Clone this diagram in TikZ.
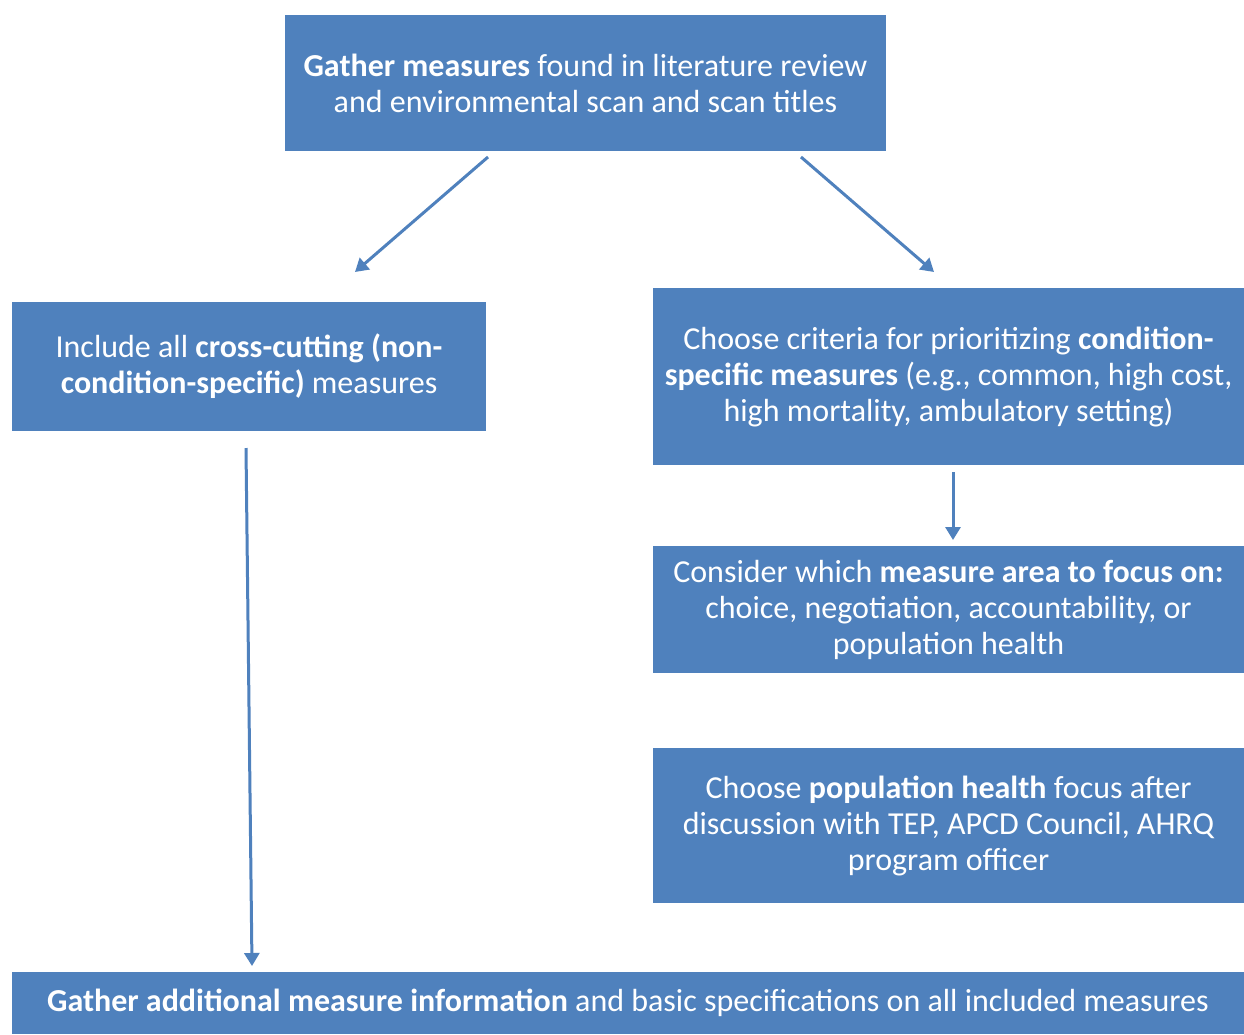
\documentclass[tikz,border=0pt]{standalone}
\usepackage{fontspec}
\setmainfont{Carlito}
\usetikzlibrary{arrows.meta}
\definecolor{boxblue}{HTML}{4F81BD}
\tikzset{
  box/.style={fill=boxblue, draw=none, text=white, align=center, inner sep=0pt,
    font=\fontsize{32}{36}\selectfont},
  conn/.style={draw=boxblue, line width=3pt, -{Triangle[width=15pt,length=13pt]}}
}
\begin{document}
\begin{tikzpicture}[x=1pt,y=-1pt]
\useasboundingbox (0,0) rectangle (1244,1034);
\fill[white] (0,0) rectangle (1244,1034);
\node[box, minimum width=601pt, minimum height=136pt] (top) at (585.5,83)
  {\textbf{Gather measures} found in literature review\\ and environmental scan and scan titles};
\node[box, minimum width=474pt, minimum height=129pt] (left) at (249,366.5)
  {Include all \textbf{cross-cutting (non-}\\\textbf{condition-specific)} measures};
\node[box, minimum width=591pt, minimum height=177pt] (r1) at (948.5,376.5)
  {Choose criteria for prioritizing \textbf{condition-}\\\textbf{specific measures} (e.g., common, high cost,\\ high mortality, ambulatory setting)};
\node[box, minimum width=591pt, minimum height=127pt] (r2) at (948.5,609.5)
  {Consider which \textbf{measure area to focus on:}\\ choice, negotiation, accountability, or\\ population health};
\node[box, minimum width=591pt, minimum height=155pt] (r3) at (948.5,825.5)
  {Choose \textbf{population health} focus after\\ discussion with TEP, APCD Council, AHRQ\\ program officer};
\node[box, minimum width=1232pt, minimum height=62pt] (bot) at (628,1003)
  {\textbf{Gather additional measure information} and basic specifications on all included measures};
\coordinate (a1s) at (488,157);
\coordinate (a1e) at (355,272);
\coordinate (a2s) at (801,157);
\coordinate (a2e) at (934,272);
\coordinate (a3s) at (953,472);
\coordinate (a3e) at (953,540);
\coordinate (a4s) at (246,448);
\coordinate (a4e) at (252,966);
\draw[conn] (a1s) -- (a1e);
\draw[conn] (a2s) -- (a2e);
\draw[conn] (a3s) -- (a3e);
\draw[conn] (a4s) -- (a4e);
\end{tikzpicture}
\end{document}
